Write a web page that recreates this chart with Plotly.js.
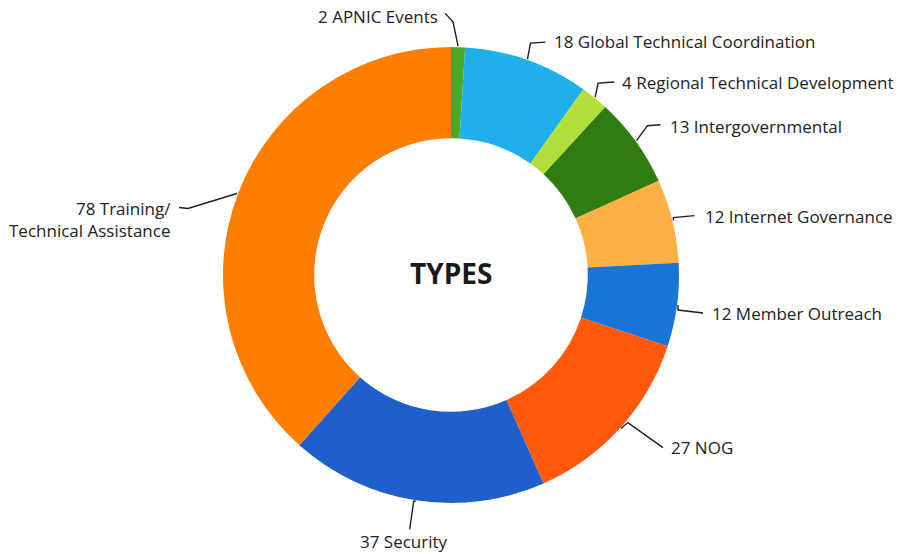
<!DOCTYPE html>
<html>
<head>
<meta charset="utf-8">
<script src="https://cdn.plot.ly/plotly-3.0.1.min.js"></script>
<style>
  html, body { margin: 0; padding: 0; background: #ffffff; }
  #chart { width: 902px; height: 554px; }
</style>
</head>
<body>
<div id="chart"></div>
<script>
// ---- data ----
const categories = [
  "APNIC Events",
  "Global Technical Coordination",
  "Regional Technical Development",
  "Intergovernmental",
  "Internet Governance",
  "Member Outreach",
  "NOG",
  "Security",
  "Training/<br>Technical Assistance"
];
const counts = [2, 18, 4, 13, 12, 12, 27, 37, 78];
const centerTitle = "TYPES";

// ---- styles ----
const sliceColors = ["#4aa82a", "#1fb0ea", "#b4de3c", "#2f7d10", "#fdb043",
                     "#1a74d8", "#ff5a0c", "#1f5fcc", "#ff7e00"];
// label layout (pixel offsets from the slice's outer mid-point): elbow, end of line, text
const labelStyle = [
  {elbow: [-5, -24], end: [-13, -33], text: [-18, -30], anchor: "right"},
  {elbow: [3, -16],  end: [18, -17],  text: [25, -18],  anchor: "left"},
  {elbow: [3, -14],  end: [19, -15],  text: [25, -15],  anchor: "left"},
  {elbow: [11, -15], end: [24, -16],  text: [32, -14],  anchor: "left"},
  {elbow: [0, -3],   end: [21, -5],   text: [30, -4],   anchor: "left"},
  {elbow: [0, 5],    end: [25, 8],    text: [32, 8],    anchor: "left"},
  {elbow: [7, -6],   end: [42, 19],   text: [48, 19],   anchor: "left"},
  {elbow: [-2, 0],   end: [-6, 28],   text: [-12, 40],  anchor: "center"},
  {elbow: [-49, 15], end: [-58, 14],  text: [-64, 26],  anchor: "right"}
];

const W = 902, H = 554;
const cx = 451, cy = 275, R = 228;
const px2x = x => x / W;
const px2y = y => 1 - y / H;

const total = counts.reduce((a, b) => a + b, 0);
let cum = 0;
const shapes = [];
const annotations = [];
counts.forEach((v, i) => {
  const mid = (cum + v / 2) / total * 2 * Math.PI;
  cum += v;
  const tx = cx + (R + 1) * Math.sin(mid);
  const ty = cy - (R + 1) * Math.cos(mid);
  const s = labelStyle[i];
  const ex = tx + s.elbow[0], ey = ty + s.elbow[1];
  const fx = tx + s.end[0], fy = ty + s.end[1];
  shapes.push({
    type: "path", xref: "paper", yref: "paper",
    path: `M ${px2x(tx)},${px2y(ty)} L ${px2x(ex)},${px2y(ey)} L ${px2x(fx)},${px2y(fy)}`,
    line: {color: "#1e1e1e", width: 1.4}
  });
  annotations.push({
    xref: "paper", yref: "paper",
    x: px2x(tx + s.text[0]), y: px2y(ty + s.text[1]),
    xanchor: s.anchor, yanchor: "middle", align: s.anchor === "center" ? "center" : "right",
    showarrow: false,
    text: counts[i] + " " + categories[i],
    font: {family: "Open Sans, sans-serif", size: 17, color: "#222222"}
  });
});

annotations.push({
  xref: "paper", yref: "paper", x: px2x(cx), y: px2y(273),
  xanchor: "center", yanchor: "middle", showarrow: false,
  text: "<b>" + centerTitle + "</b>",
  font: {family: "Open Sans, sans-serif", size: 28, color: "#1a1a1a"}
});

const trace = {
  type: "pie",
  labels: categories,
  values: counts,
  hole: 0.6,
  sort: false,
  direction: "clockwise",
  rotation: 0,
  textinfo: "none",
  marker: {colors: sliceColors, line: {width: 0}},
  domain: {x: [(cx - R) / W, (cx + R) / W], y: [(H - cy - R) / H, (H - cy + R) / H]},
  showlegend: false
};

const layout = {
  width: W, height: H,
  margin: {l: 0, r: 0, t: 0, b: 0},
  paper_bgcolor: "#ffffff",
  plot_bgcolor: "#ffffff",
  showlegend: false,
  shapes: shapes,
  annotations: annotations
};

Plotly.newPlot("chart", [trace], layout, {displayModeBar: false, staticPlot: true});
</script>
</body>
</html>
